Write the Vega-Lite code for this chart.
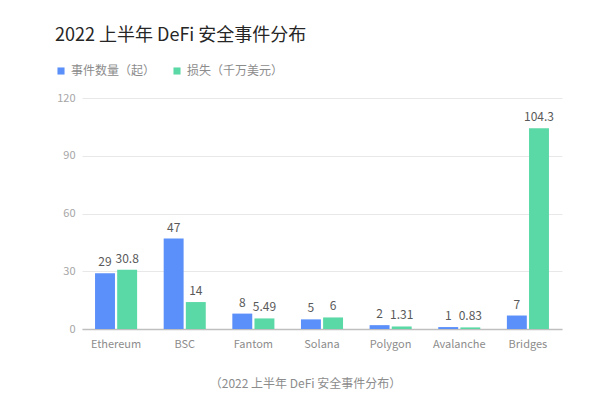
{
  "$schema": "https://vega.github.io/schema/vega-lite/v6.json",
  "width": 480,
  "height": 231,
  "autosize": "none",
  "padding": {"left": 82, "top": 98, "right": 48, "bottom": 73},
  "background": "white",
  "config": {
    "font": "Noto Sans CJK SC",
    "view": {"stroke": null}
  },
  "title": {
    "text": "2022 上半年 DeFi 安全事件分布",
    "anchor": "start",
    "fontSize": 18,
    "fontWeight": "normal",
    "color": "#262626",
    "dx": 0,
    "offset": 20
  },
  "data": {
    "values": [
      {"platform": "Ethereum", "series": "事件数量（起）", "value": 29, "label": "29"},
      {"platform": "Ethereum", "series": "损失（千万美元）", "value": 30.8, "label": "30.8"},
      {"platform": "BSC", "series": "事件数量（起）", "value": 47, "label": "47"},
      {"platform": "BSC", "series": "损失（千万美元）", "value": 14, "label": "14"},
      {"platform": "Fantom", "series": "事件数量（起）", "value": 8, "label": "8"},
      {"platform": "Fantom", "series": "损失（千万美元）", "value": 5.49, "label": "5.49"},
      {"platform": "Solana", "series": "事件数量（起）", "value": 5, "label": "5"},
      {"platform": "Solana", "series": "损失（千万美元）", "value": 6, "label": "6"},
      {"platform": "Polygon", "series": "事件数量（起）", "value": 2, "label": "2"},
      {"platform": "Polygon", "series": "损失（千万美元）", "value": 1.31, "label": "1.31"},
      {"platform": "Avalanche", "series": "事件数量（起）", "value": 1, "label": "1"},
      {"platform": "Avalanche", "series": "损失（千万美元）", "value": 0.83, "label": "0.83"},
      {"platform": "Bridges", "series": "事件数量（起）", "value": 7, "label": "7"},
      {"platform": "Bridges", "series": "损失（千万美元）", "value": 104.3, "label": "104.3"}
    ]
  },
  "encoding": {
    "x": {
      "field": "platform",
      "type": "nominal",
      "sort": ["Ethereum", "BSC", "Fantom", "Solana", "Polygon", "Avalanche", "Bridges"],
      "scale": {"paddingInner": 0.387, "paddingOuter": 0.19},
      "axis": {
        "title": "（2022 上半年 DeFi 安全事件分布）",
        "titleFontSize": 12,
        "titleFontWeight": "normal",
        "titleColor": "#8c8c8c",
        "titleX": 223,
        "titleY": 54,
        "titleBaseline": "middle",
        "labelAngle": 0,
        "labelFontSize": 11,
        "labelColor": "#8c8c8c",
        "labelPadding": 9,
        "ticks": false,
        "domainColor": "#bfbfbf",
        "domainWidth": 1.5
      }
    },
    "xOffset": {
      "field": "series",
      "type": "nominal",
      "sort": ["事件数量（起）", "损失（千万美元）"],
      "scale": {"paddingInner": 0.1}
    },
    "y": {
      "field": "value",
      "type": "quantitative",
      "scale": {"domain": [0, 120]},
      "axis": {
        "title": null,
        "values": [0, 30, 60, 90, 120],
        "labelFontSize": 11,
        "labelColor": "#a6a6a6",
        "labelPadding": 7,
        "ticks": false,
        "domain": false,
        "gridColor": "#e8e8e8"
      }
    }
  },
  "layer": [
    {
      "mark": {"type": "bar"},
      "encoding": {
        "color": {
          "field": "series",
          "type": "nominal",
          "sort": ["事件数量（起）", "损失（千万美元）"],
          "scale": {"range": ["#5B8FF9", "#5AD8A6"]},
          "legend": {
            "title": null,
            "orient": "none",
            "direction": "horizontal",
            "legendX": -27,
            "legendY": -33,
            "symbolType": "square",
            "symbolSize": 50,
            "labelFontSize": 12,
            "labelColor": "#8c8c8c",
            "columnPadding": 15
          }
        }
      }
    },
    {
      "mark": {"type": "text", "baseline": "bottom", "dy": -4, "fontSize": 12, "color": "#595959"},
      "encoding": {
        "text": {"field": "label", "type": "nominal"}
      }
    }
  ]
}
